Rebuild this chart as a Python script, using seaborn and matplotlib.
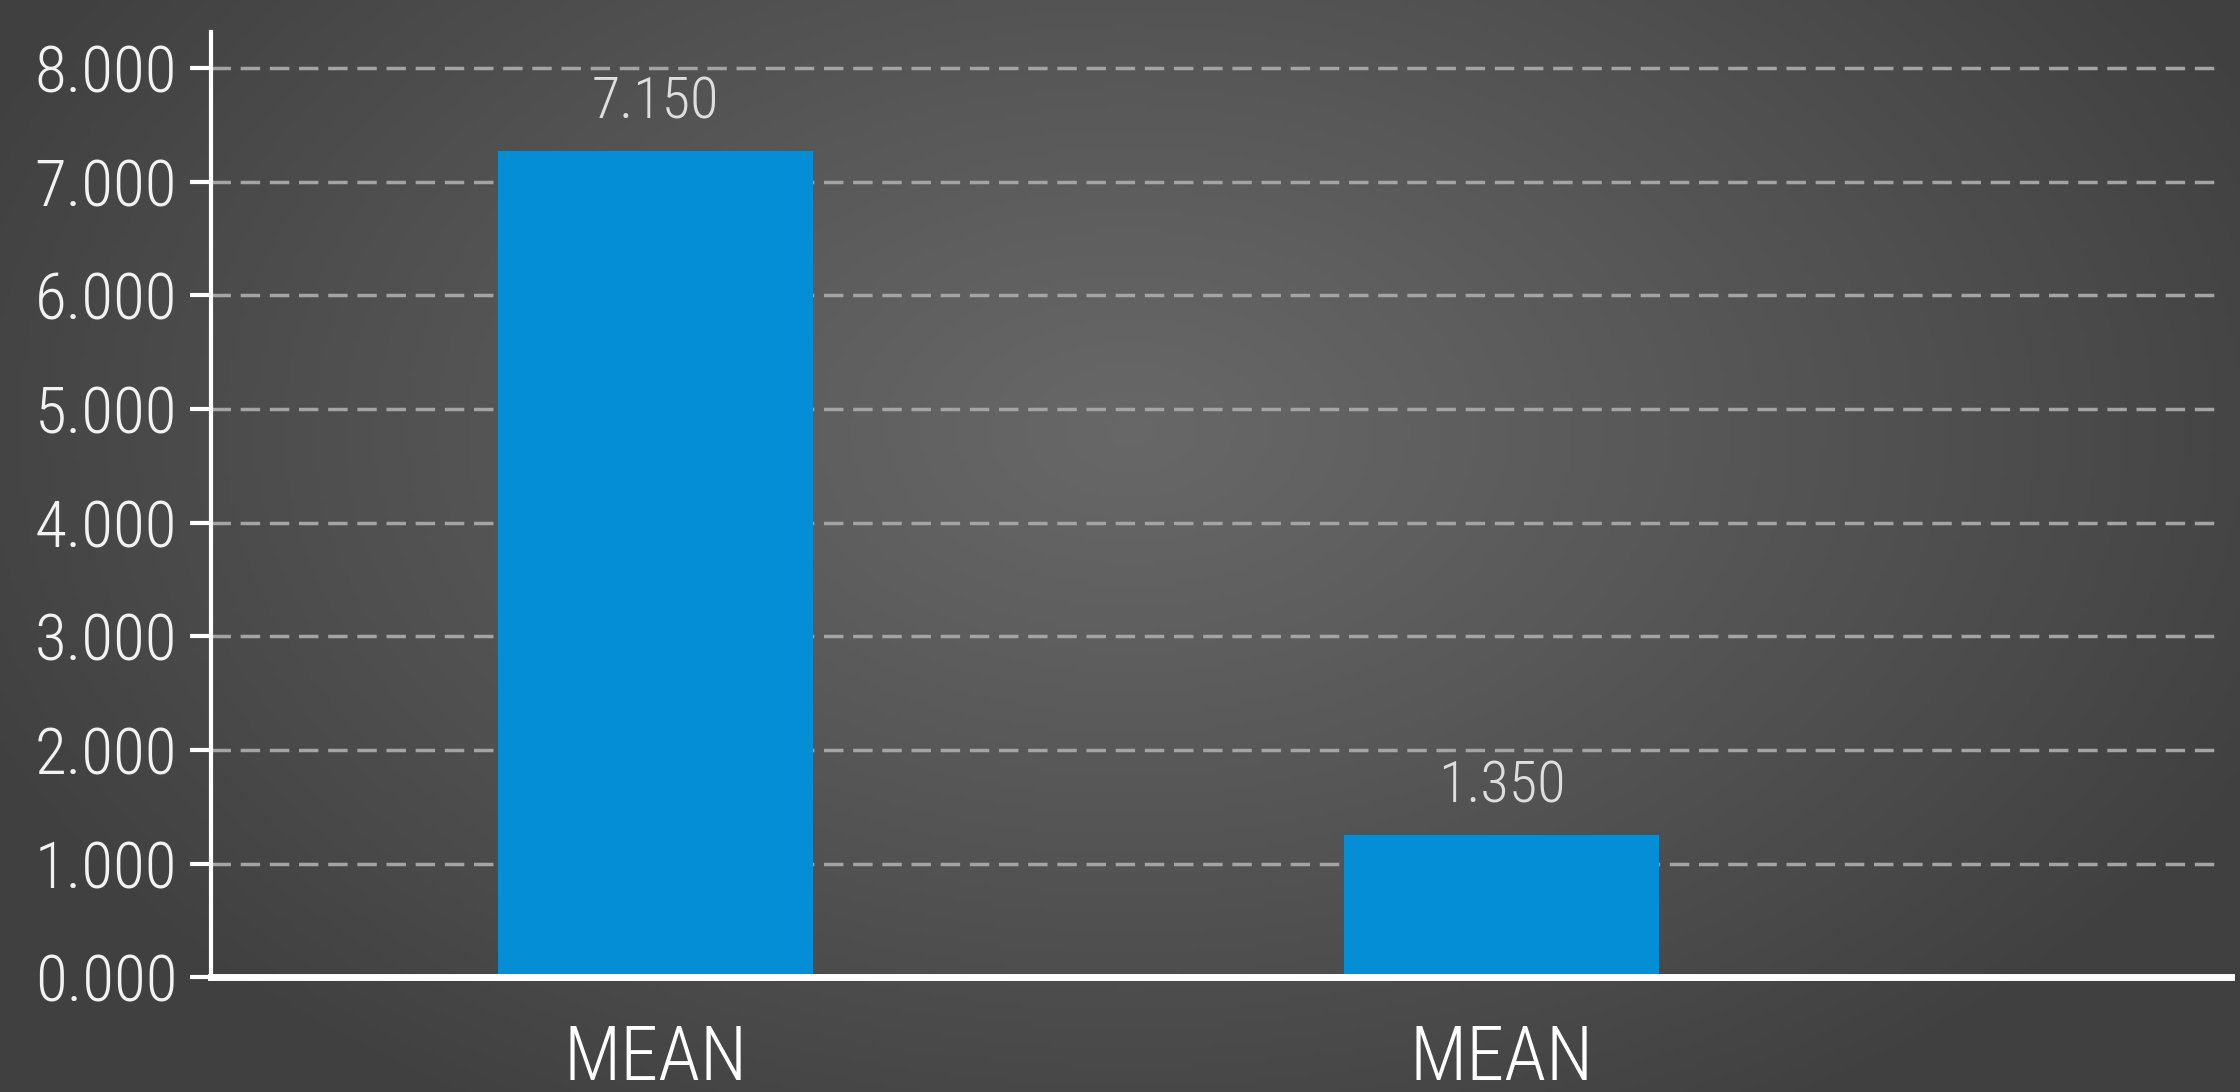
import numpy as np
import pandas as pd
import matplotlib
matplotlib.use("Agg")
import matplotlib.pyplot as plt
import seaborn as sns

# ---- data ----
categories = ["MEAN", "MEAN"]
bar_values = [7.27, 1.25]          # visual bar heights
bar_labels = ["7.150", "1.350"]    # printed value labels
y_ticks = [0, 1, 2, 3, 4, 5, 6, 7, 8]
y_tick_labels = ["0.000", "1.000", "2.000", "3.000", "4.000",
                 "5.000", "6.000", "7.000", "8.000"]

sns.set_theme(style="white")
plt.rcParams["font.family"] = ["Roboto Condensed", "DejaVu Sans"]
plt.rcParams["font.weight"] = 300
plt.rcParams["lines.scale_dashes"] = False

W, H, DPI = 22.4, 10.92, 100
fig = plt.figure(figsize=(W, H), dpi=DPI)

# radial gradient background
bg = fig.add_axes([0, 0, 1, 1], zorder=-10)
nx, ny = 448, 218
xx, yy = np.meshgrid(np.linspace(0, 2240, nx), np.linspace(0, 1092, ny))
cx, cy = 1130, 430
d = np.sqrt(((xx - cx) / 1250.0) ** 2 + ((yy - cy) / 800.0) ** 2)
d = np.clip(d, 0, 1)
val = 0.41 + (0.255 - 0.41) * d ** 1.1
img = np.dstack([val, val * 0.99, val])
bg.imshow(img, extent=[0, 1, 0, 1], aspect="auto", origin="upper")
bg.set_axis_off()

ax = fig.add_axes([0.094, 0.105, 0.902, 0.866])
ax.set_facecolor("none")

df = pd.DataFrame({"slot": [0, 1], "value": bar_values})
sns.barplot(data=df, x="slot", y="value", color="#048ED6", saturation=1,
            width=0.372, ax=ax, zorder=3, linewidth=0)

ax.set_xlim(-0.526, 1.862)
ax.set_ylim(0, 8.32)

ax.set_yticks(y_ticks)
ax.set_yticklabels(y_tick_labels)
ax.set_xticks([0, 1])
ax.set_xticklabels(categories)
ax.set_xlabel("")
ax.set_ylabel("")

ax.tick_params(axis="y", length=15, width=3, color="white", pad=9,
               labelsize=47, labelcolor="#f2f2f2", left=True)
ax.tick_params(axis="x", length=0, pad=33, labelsize=55, labelcolor="white")
for t in ax.get_yticklabels() + ax.get_xticklabels():
    t.set_fontweight(300)

for s in ["top", "right"]:
    ax.spines[s].set_visible(False)
ax.spines["left"].set_color("white")
ax.spines["left"].set_linewidth(3)
ax.spines["bottom"].set_color("white")
ax.spines["bottom"].set_linewidth(5)
ax.spines["bottom"].set_zorder(5)

# dashed gridlines
for t in y_ticks[1:]:
    ax.axhline(t, xmin=0, xmax=0.994, color="#a4a4a4", linewidth=2.5,
               linestyle=(0, (14, 7)), zorder=1)

for i, (v, lab) in enumerate(zip(bar_values, bar_labels)):
    ax.annotate(lab, (i, v), xytext=(0, 15), textcoords="offset points",
                ha="center", va="bottom", fontsize=42, color="#dedede",
                fontweight=300)

fig.savefig("out.png", dpi=DPI)
